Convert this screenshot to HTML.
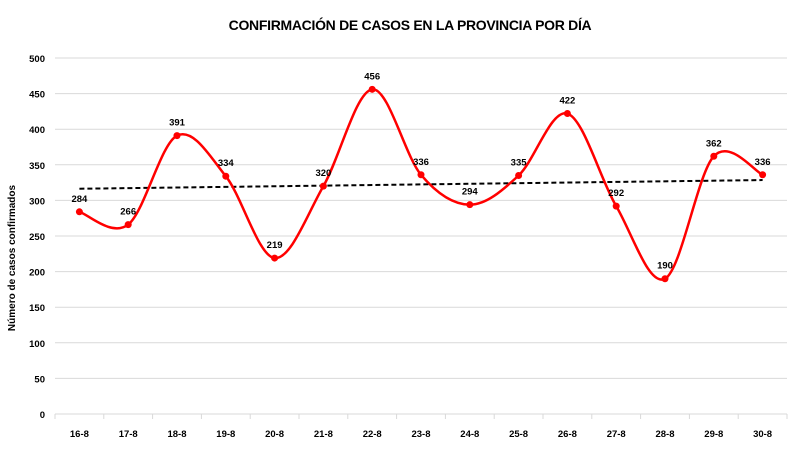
<!DOCTYPE html>
<html><head><meta charset="utf-8"><style>
body{margin:0;background:#fff;}
svg{display:block;font-family:"Liberation Sans",Arial,sans-serif;}
</style></head><body>
<svg id="chart" width="800" height="476" viewBox="0 0 800 476" xmlns="http://www.w3.org/2000/svg">
<text x="410" y="30" text-anchor="middle" font-size="14" letter-spacing="-0.3" font-weight="bold" fill="#000">CONFIRMACIÓN DE CASOS EN LA PROVINCIA POR DÍA</text>
<text transform="translate(15,258) rotate(-90)" text-anchor="middle" font-size="10" font-weight="bold" fill="#000">Número de casos confirmados</text>
<g id="grid"></g><g id="axes"></g><g id="series"></g>
</svg>
<script>
const categories=["16-8","17-8","18-8","19-8","20-8","21-8","22-8","23-8","24-8","25-8","26-8","27-8","28-8","29-8","30-8"];
const values=[284,266,391,334,219,320,456,336,294,335,422,292,190,362,336];
const yTicks=[0,50,100,150,200,250,300,350,400,450,500];
const NS="http://www.w3.org/2000/svg";
const x0=55,x1=787,yBase=414,yTop=58,ymax=500;
const band=(x1-x0)/categories.length;
const X=i=>x0+band*(i+0.5);
const Y=v=>yBase-(v/ymax)*(yBase-yTop);
function mk(t,a,p){const e=document.createElementNS(NS,t);for(const k in a)e.setAttribute(k,a[k]);p.appendChild(e);return e;}
const grid=document.getElementById('grid'),axes=document.getElementById('axes'),ser=document.getElementById('series');
yTicks.forEach(v=>{
 if(v>0){const l=mk('line',{x1:x0,x2:x1,y1:Y(v),y2:Y(v),stroke:'#d9d9d9','stroke-width':1},grid);
 }
 const t=mk('text',{x:45,y:Y(v)+4,'text-anchor':'end','font-size':9.5,'font-weight':'bold',fill:'#000'},axes);
 t.textContent=v;
 
});
const ax=mk('line',{x1:x0,x2:x1,y1:yBase,y2:yBase,stroke:'#d9d9d9','stroke-width':1},axes);

for(let i=0;i<=categories.length;i++){
 const tk=mk('line',{x1:x0+band*i,x2:x0+band*i,y1:yBase,y2:yBase+5,stroke:'#d9d9d9'},axes);
 
}
categories.forEach((c,i)=>{
 const t=mk('text',{x:X(i),y:437,'text-anchor':'middle','font-size':9.5,'font-weight':'bold',fill:'#000'},axes);
 t.textContent=c;
 
});
const n=values.length;let sx=0,sy=0,sxy=0,sxx=0;
values.forEach((v,i)=>{sx+=i;sy+=v;sxy+=i*v;sxx+=i*i;});
const b=(n*sxy-sx*sy)/(n*sxx-sx*sx),a=(sy-b*sx)/n;
const tr=mk('line',{x1:X(0),y1:Y(a),x2:X(n-1),y2:Y(a+b*(n-1)),stroke:'#000','stroke-width':2,'stroke-dasharray':'5,3'},ser);

const pts=values.map((v,i)=>[X(i),Y(v)]);
let d=`M${pts[0][0]},${pts[0][1]}`;
for(let i=0;i<pts.length-1;i++){
 const p0=pts[i-1]||pts[i],p1=pts[i],p2=pts[i+1],p3=pts[i+2]||p2;const k=1/6;
 d+=` C${p1[0]+(p2[0]-p0[0])*k},${p1[1]+(p2[1]-p0[1])*k} ${p2[0]-(p3[0]-p1[0])*k},${p2[1]-(p3[1]-p1[1])*k} ${p2[0]},${p2[1]}`;
}
const ln=mk('path',{d:d,fill:'none',stroke:'#ff0000','stroke-width':2.5},ser);

pts.forEach((p,i)=>{
 const c=mk('circle',{cx:p[0],cy:p[1],r:3.5,fill:'#ff0000'},ser);
 
 const t=mk('text',{x:p[0],y:p[1]-10,'text-anchor':'middle','font-size':9.5,'font-weight':'bold',fill:'#000'},ser);
 t.textContent=values[i];
 
});
</script>
</body></html>
